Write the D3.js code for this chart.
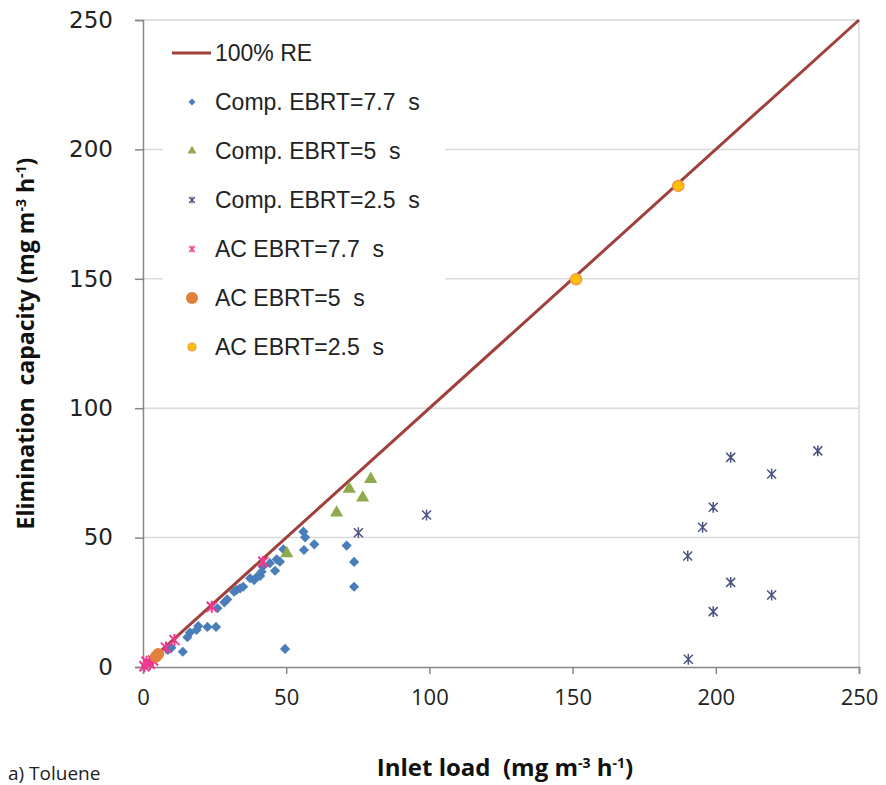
<!DOCTYPE html>
<html>
<head>
<meta charset="utf-8">
<script src="https://cdn.jsdelivr.net/npm/d3@7"></script>
<style>
  body { margin: 0; background: #fff; }
  text { white-space: pre; }
</style>
</head>
<body>
<div id="chart"></div>
<script>
// values: [inlet load, elimination capacity]
const reLine = [[0, 0], [250, 250]]
const comp77 = [[3, 2.5], [5, 4], [8.7, 6.6], [9.9, 7.4], [13.9, 5.9], [15.5, 11.5], [16.4, 13.3], [18.7, 14.3],
  [19.3, 15.8], [22.5, 15.5], [25.5, 15.5], [26, 22.7], [28.4, 25], [29.4, 26.1], [31.8, 29.1], [32.7, 29.8],
  [33.9, 30.4], [35, 31], [37.4, 34.3], [38.8, 33.6], [39.7, 34.7], [40.9, 35.2], [41.4, 36.8], [41.8, 38.8],
  [44.3, 40.1], [46.1, 37.2], [46.7, 41.6], [47.8, 40.7], [49, 45.5], [49.6, 7], [56, 52.3], [56.6, 50.1],
  [56.2, 45.2], [59.8, 47.4], [71.1, 46.9], [73.7, 40.6], [73.7, 31]]
const comp5 = [[50.2, 43.9], [67.6, 59.6], [72, 68.8], [76.7, 65.4], [79.5, 72.6]]
const comp25 = [[75.2, 51.9], [99, 58.7], [190.4, 3], [190.2, 42.9], [195.4, 54], [199.1, 61.7], [199.1, 21.4],
  [205.2, 81], [205.2, 32.7], [219.5, 74.6], [219.5, 27.8], [235.6, 83.5]]
const ac77 = [[0.5, 0.3], [1.2, 2], [2.4, 1.2], [3.5, 2.5], [8, 7.5], [11, 10.4], [24, 23.3], [42, 40.7]]
const ac5 = [[4.5, 4], [5.3, 5]]
const ac25 = [[151.2, 149.8], [186.9, 185.9]]
const xTicks = [0, 50, 100, 150, 200, 250]
const yTicks = [0, 50, 100, 150, 200, 250]
const legendNames = ["100% RE", "Comp. EBRT=7.7  s", "Comp. EBRT=5  s", "Comp. EBRT=2.5  s",
  "AC EBRT=7.7  s", "AC EBRT=5  s", "AC EBRT=2.5  s"]

const width = 886
const height = 785
const mLeft = 143, mRight = 859, mTop = 20, mBottom = 667

const svg = d3.select("#chart").append("svg")
  .attr("width", width)
  .attr("height", height)

const x = d3.scaleLinear().domain([0, 250]).range([mLeft, mRight])
const y = d3.scaleLinear().domain([0, 250]).range([mBottom, mTop])

// grid
svg.append("g").selectAll("line")
  .data(yTicks.slice(1))
  .enter().append("line")
  .attr("x1", mLeft).attr("x2", mRight)
  .attr("y1", d => y(d)).attr("y2", d => y(d))
  .attr("stroke", "#d9d9d9").attr("stroke-width", 1.5)
svg.append("line")
  .attr("x1", mRight).attr("x2", mRight).attr("y1", mTop).attr("y2", mBottom)
  .attr("stroke", "#d9d9d9").attr("stroke-width", 1.5)

// axes
const xAxis = svg.append("g")
  .attr("transform", "translate(0," + mBottom + ")")
  .call(d3.axisBottom(x).tickValues(xTicks).tickSize(7).tickPadding(15))
const yAxis = svg.append("g")
  .attr("transform", "translate(" + mLeft + ",0)")
  .call(d3.axisLeft(y).tickValues(yTicks).tickSize(8).tickPadding(22))
xAxis.select(".domain").attr("stroke", "#868686").attr("stroke-width", 1.5)
yAxis.select(".domain").attr("stroke", "#868686").attr("stroke-width", 1.5)
xAxis.selectAll(".tick line").attr("stroke", "#868686").attr("stroke-width", 1.5)
yAxis.selectAll(".tick line").attr("stroke", "#868686").attr("stroke-width", 1.5)
xAxis.selectAll("text").attr("font-family", "'Open Sans', sans-serif")
  .attr("font-size", 22).attr("fill", "#222")
yAxis.selectAll("text").attr("font-family", "'DejaVu Sans', sans-serif")
  .attr("font-size", 23).attr("fill", "#222")

// asterisk marker
const star = (s) => {
  const a = s / 2
  return "M" + (-a) + "," + (-a) + "L" + a + "," + a + "M" + (-a) + "," + a + "L" + a + "," + (-a) +
    "M0," + (-a * 1.2) + "L0," + (a * 1.2)
}
const diamond = d3.symbol().type(d3.symbolSquare).size(52)
const triangle = d3.symbol().type(d3.symbolTriangle).size(75)

// 100% RE line
svg.append("path")
  .datum(reLine)
  .attr("d", d3.line().x(d => x(d[0])).y(d => y(d[1])))
  .attr("stroke", "#a0403c").attr("stroke-width", 3).attr("fill", "none")

const pts = svg.append("g")
pts.selectAll(".c77").data(comp77).enter().append("path")
  .attr("transform", d => "translate(" + x(d[0]) + "," + y(d[1]) + ") rotate(45)")
  .attr("d", diamond).attr("fill", "#4a7ebb")
pts.selectAll(".c5").data(comp5).enter().append("path")
  .attr("transform", d => "translate(" + x(d[0]) + "," + y(d[1]) + ")")
  .attr("d", triangle).attr("fill", "#8fa94e")
pts.selectAll(".c25").data(comp25).enter().append("path")
  .attr("transform", d => "translate(" + x(d[0]) + "," + y(d[1]) + ")")
  .attr("d", star(9)).attr("stroke", "#4b5480").attr("stroke-width", 1.5).attr("fill", "none")
pts.selectAll(".a77").data(ac77).enter().append("path")
  .attr("transform", d => "translate(" + x(d[0]) + "," + y(d[1]) + ")")
  .attr("d", star(10)).attr("stroke", "#f0388e").attr("stroke-width", 2).attr("fill", "none")
pts.selectAll(".a5").data(ac5).enter().append("circle")
  .attr("cx", d => x(d[0])).attr("cy", d => y(d[1])).attr("r", 6)
  .attr("fill", "#e0803c")
pts.selectAll(".a25").data(ac25).enter().append("circle")
  .attr("cx", d => x(d[0])).attr("cy", d => y(d[1])).attr("r", 5.5)
  .attr("fill", "#ffc000").attr("stroke", "#f79646").attr("stroke-width", 1.5)

// legend
const lg = svg.append("g")
lg.append("rect").attr("x", 163).attr("y", 28).attr("width", 282).attr("height", 342).attr("fill", "#fff")
const rowY = i => 53 + i * 49
lg.append("line").attr("x1", 172).attr("x2", 211).attr("y1", rowY(0)).attr("y2", rowY(0))
  .attr("stroke", "#a0403c").attr("stroke-width", 3)
lg.append("path").attr("transform", "translate(192," + rowY(1) + ") rotate(45)")
  .attr("d", d3.symbol().type(d3.symbolSquare).size(24)).attr("fill", "#4a7ebb")
lg.append("path").attr("transform", "translate(192," + rowY(2) + ")")
  .attr("d", d3.symbol().type(d3.symbolTriangle).size(35)).attr("fill", "#8fa94e")
lg.append("path").attr("transform", "translate(192," + rowY(3) + ")")
  .attr("d", star(6)).attr("stroke", "#4b5480").attr("stroke-width", 1.2).attr("fill", "none")
lg.append("path").attr("transform", "translate(192," + rowY(4) + ")")
  .attr("d", star(6)).attr("stroke", "#f0388e").attr("stroke-width", 1.2).attr("fill", "none")
lg.append("circle").attr("cx", 192).attr("cy", rowY(5)).attr("r", 6).attr("fill", "#e0803c")
lg.append("circle").attr("cx", 192).attr("cy", rowY(6)).attr("r", 4)
  .attr("fill", "#ffc000").attr("stroke", "#f79646").attr("stroke-width", 1.2)
lg.selectAll("text").data(legendNames).enter().append("text")
  .attr("x", 215).attr("y", (d, i) => rowY(i))
  .attr("dy", "0.35em")
  .attr("font-family", "'Liberation Sans', Arial, sans-serif")
  .attr("font-size", 23).attr("fill", "#222")
  .text(d => d)

// titles
const yt = svg.append("text")
  .attr("transform", "translate(34," + ((mTop + mBottom) / 2) + ") rotate(-90)")
  .attr("text-anchor", "middle")
  .attr("font-family", "'Open Sans', sans-serif")
  .attr("font-weight", "bold").attr("font-size", 23).attr("fill", "#111")
yt.append("tspan").text("Elimination  capacity (mg m")
yt.append("tspan").attr("dy", -8).attr("font-size", 14).text("-3")
yt.append("tspan").attr("dy", 8).text(" h")
yt.append("tspan").attr("dy", -8).attr("font-size", 14).text("-1")
yt.append("tspan").attr("dy", 8).text(")")

const xt = svg.append("text")
  .attr("x", 505).attr("y", 776)
  .attr("text-anchor", "middle")
  .attr("font-family", "'Open Sans', sans-serif")
  .attr("font-weight", "bold").attr("font-size", 24).attr("fill", "#111")
xt.append("tspan").text("Inlet load  (mg m")
xt.append("tspan").attr("dy", -8).attr("font-size", 14).text("-3")
xt.append("tspan").attr("dy", 8).text(" h")
xt.append("tspan").attr("dy", -8).attr("font-size", 14).text("-1")
xt.append("tspan").attr("dy", 8).text(")")

svg.append("text")
  .attr("x", 8).attr("y", 780)
  .attr("font-family", "'Open Sans', sans-serif")
  .attr("font-size", 19).attr("fill", "#222")
  .text("a) Toluene")
</script>
</body>
</html>
